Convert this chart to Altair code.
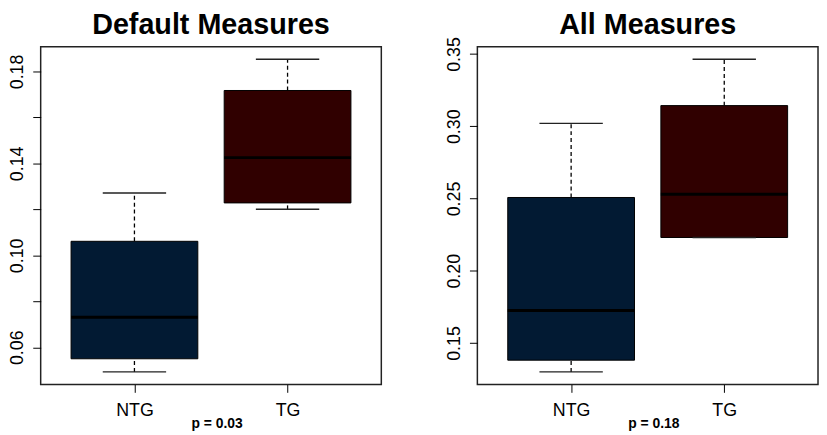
import altair as alt
import pandas as pd

groups = ["NTG", "TG"]
positions = [1, 2]
fills = ["#021a33", "#300000"]

default_low = [0.0493, 0.1200]
default_q1 = [0.0550, 0.1228]
default_med = [0.0731, 0.1425]
default_q3 = [0.1061, 0.1717]
default_high = [0.1271, 0.1853]
default_ticks = [0.06, 0.08, 0.10, 0.12, 0.14, 0.16, 0.18]

all_low = [0.1300, 0.2230]
all_q1 = [0.1381, 0.2230]
all_med = [0.1725, 0.2529]
all_q3 = [0.2507, 0.3143]
all_high = [0.3020, 0.3464]
all_ticks = [0.15, 0.20, 0.25, 0.30, 0.35]

titles = ["Default Measures", "All Measures"]
pvalues = ["p = 0.03", "p = 0.18"]

W = 344
H = 341
FONT = "Liberation Sans"


def panel(title, low, q1, med, q3, high, yticks, label_expr, pval):
    df = pd.DataFrame({"group": groups, "pos": positions, "low": low, "q1": q1,
                       "med": med, "q3": q3, "high": high})
    lo, hi = min(low), max(high)
    r = hi - lo
    xs = alt.Scale(domain=[0.42, 2.58], nice=False, zero=False)
    ys = alt.Scale(domain=[lo - 0.04 * r, hi + 0.04 * r], nice=False, zero=False)
    xax = alt.Axis(values=[1, 2], labelExpr="datum.value == 1 ? 'NTG' : 'TG'", title=None,
                   grid=False, domain=False, tickSize=8, tickColor="black", tickWidth=1,
                   labelFontSize=18, labelFont=FONT, labelColor="black", labelPadding=9)
    yax = alt.Axis(values=yticks, labelExpr=label_expr, title=None, grid=False, domain=False,
                   tickSize=8, tickColor="black", tickWidth=1, labelAngle=-90,
                   labelAlign="center", labelBaseline="bottom", labelPadding=6,
                   labelFontSize=18, labelFont=FONT, labelColor="black")
    base = alt.Chart(df)
    X = alt.X("pos:Q", scale=xs, axis=xax)
    wl = base.mark_rule(strokeDash=[4, 3], color="black", strokeWidth=1.3).encode(
        x=X, y=alt.Y("low:Q", scale=ys, axis=yax), y2="q1:Q")
    wh = base.mark_rule(strokeDash=[4, 3], color="black", strokeWidth=1.3).encode(
        x="pos:Q", y="q3:Q", y2="high:Q")
    box = base.mark_bar(size=128, stroke="black", strokeWidth=1).encode(
        x="pos:Q", y="q1:Q", y2="q3:Q",
        color=alt.Color("group:N", scale=alt.Scale(domain=groups, range=fills), legend=None))
    md = base.mark_tick(orient="horizontal", size=128, thickness=3, color="black", opacity=1).encode(
        x="pos:Q", y="med:Q")
    cl = base.mark_tick(orient="horizontal", size=64, thickness=1.5, color="#222", opacity=1).encode(
        x="pos:Q", y="low:Q")
    ch = base.mark_tick(orient="horizontal", size=64, thickness=1.5, color="#222", opacity=1).encode(
        x="pos:Q", y="high:Q")
    pt = alt.Chart(pd.DataFrame({"x": [1.54], "label": [pval]})).mark_text(
        fontWeight="bold", fontSize=14, font=FONT, color="black").encode(
        x="x:Q", y=alt.value(H + 40), text="label:N")
    tt = alt.Chart(pd.DataFrame({"label": [title]})).mark_text(
        fontWeight="bold", fontSize=29, font=FONT, color="black", baseline="alphabetic",
        align="center").encode(
        x=alt.value(W / 2), y=alt.value(-13), text="label:N")
    return alt.layer(wl, wh, box, md, cl, ch, pt, tt).properties(width=W, height=H)


left = panel(titles[0], default_low, default_q1, default_med, default_q3, default_high,
             default_ticks, "(round(datum.value*100) % 4 == 2) ? format(datum.value, '.2f') : ''",
             pvalues[0])
right = panel(titles[1], all_low, all_q1, all_med, all_q3, all_high,
              all_ticks, "format(datum.value, '.2f')", pvalues[1])

chart = alt.hconcat(left, right, spacing=63).properties(
    padding={"left": 0, "top": 0, "right": 0, "bottom": 0}
).configure(background="white").configure_view(stroke="#222", strokeWidth=1.5)

chart.save("out.html", embed_options={"renderer": "svg", "actions": False})
